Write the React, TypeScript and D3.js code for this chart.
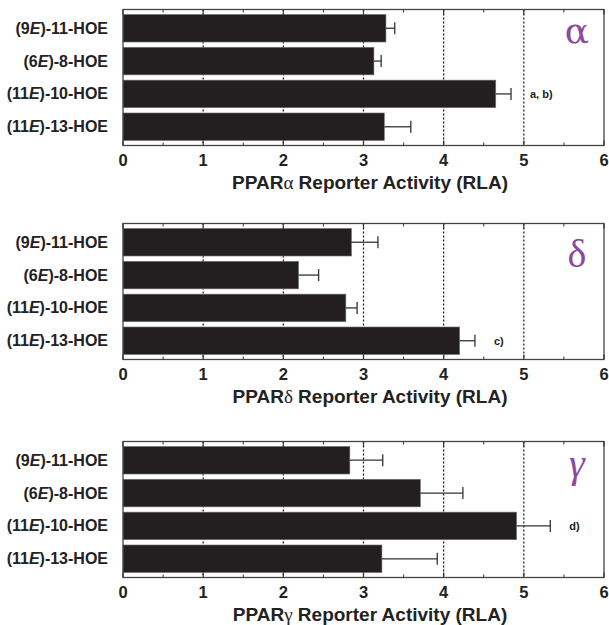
import React, { useEffect, useRef } from 'react';
import * as d3 from 'd3';

const categories = ['(9E)-11-HOE', '(6E)-8-HOE', '(11E)-10-HOE', '(11E)-13-HOE'];

const alphaValues = [3.28, 3.13, 4.65, 3.26];
const alphaErrors = [0.11, 0.09, 0.19, 0.33];
const alphaNotes = ['', '', 'a, b)', ''];

const deltaValues = [2.85, 2.19, 2.78, 4.2];
const deltaErrors = [0.33, 0.25, 0.14, 0.19];
const deltaNotes = ['', '', '', 'c)'];

const gammaValues = [2.83, 3.71, 4.91, 3.23];
const gammaErrors = [0.41, 0.53, 0.42, 0.69];
const gammaNotes = ['', '', 'd)', ''];

const xTicks = [0, 1, 2, 3, 4, 5, 6];
const gridTicks = [1, 2, 3, 4, 5];
const minorTicks = d3.range(0.5, 6, 1);

const greek = ['α', 'δ', 'γ'];

const W = 609;
const H = 625;
const PURPLE = '#8b4a9f';

const App = () => {
  const ref = useRef<SVGSVGElement>(null);

  useEffect(() => {
    const svg = d3.select(ref.current);
    svg.selectAll('*').remove();

    const panels = [
      { top: 9.5, values: alphaValues, errors: alphaErrors, notes: alphaNotes, letter: greek[0], letterDy: 33, font: 'DejaVu Serif', italic: false },
      { top: 223.5, values: deltaValues, errors: deltaErrors, notes: deltaNotes, letter: greek[1], letterDy: 43, font: 'Liberation Serif', italic: false },
      { top: 441.5, values: gammaValues, errors: gammaErrors, notes: gammaNotes, letter: greek[2], letterDy: 35, font: 'Liberation Serif', italic: true },
    ];
    const height = 136;

    const x = d3.scaleLinear().domain([0, 6]).range([123, 604]);

    panels.forEach(p => {
      const g = svg.append('g').attr('transform', `translate(0, ${p.top})`);
      const y = d3
        .scaleBand()
        .domain(categories)
        .range([0, height])
        .paddingInner(0.16)
        .paddingOuter(0.15);

      // dotted grid lines behind the bars
      g.selectAll('.grid')
        .data(gridTicks)
        .enter()
        .append('line')
        .attr('x1', d => x(d))
        .attr('x2', d => x(d))
        .attr('y1', 0)
        .attr('y2', height)
        .attr('stroke', '#111')
        .attr('stroke-width', 1.2)
        .attr('stroke-dasharray', '2,2');

      // bars
      g.selectAll('.bar')
        .data(categories)
        .enter()
        .append('rect')
        .attr('x', x(0))
        .attr('y', d => y(d))
        .attr('width', (d, i) => x(p.values[i]) - x(0))
        .attr('height', y.bandwidth())
        .attr('fill', '#231f20')
        .attr('stroke', '#777')
        .attr('stroke-width', 0.6);

      // error bars (one-sided)
      const eb = g
        .selectAll('.err')
        .data(categories)
        .enter()
        .append('g')
        .attr('transform', d => `translate(0, ${y(d) + y.bandwidth() / 2})`);
      eb.append('line')
        .attr('x1', (d, i) => x(p.values[i]))
        .attr('x2', (d, i) => x(p.values[i] + p.errors[i]))
        .attr('stroke', '#333')
        .attr('stroke-width', 1.3);
      eb.append('line')
        .attr('x1', (d, i) => x(p.values[i] + p.errors[i]))
        .attr('x2', (d, i) => x(p.values[i] + p.errors[i]))
        .attr('y1', -6)
        .attr('y2', 6)
        .attr('stroke', '#333')
        .attr('stroke-width', 1.3);

      // significance notes
      eb.append('text')
        .attr('x', (d, i) => x(p.values[i] + p.errors[i]) + 19)
        .attr('y', 4)
        .attr('font-family', 'Liberation Sans, Arial, sans-serif')
        .attr('font-weight', 'bold')
        .attr('font-size', 11)
        .attr('fill', '#222')
        .text((d, i) => p.notes[i]);

      // frame
      g.append('rect')
        .attr('x', x(0))
        .attr('y', 0)
        .attr('width', x(6) - x(0))
        .attr('height', height)
        .attr('fill', 'none')
        .attr('stroke', '#444')
        .attr('stroke-width', 1.3);

      // inward ticks, top and bottom
      [0, height].forEach(yy => {
        const dir = yy === 0 ? 1 : -1;
        g.selectAll(null)
          .data(xTicks)
          .enter()
          .append('line')
          .attr('x1', d => x(d))
          .attr('x2', d => x(d))
          .attr('y1', yy)
          .attr('y2', yy + dir * 5)
          .attr('stroke', '#333')
          .attr('stroke-width', 1.2);
        g.selectAll(null)
          .data(minorTicks)
          .enter()
          .append('line')
          .attr('x1', d => x(d))
          .attr('x2', d => x(d))
          .attr('y1', yy)
          .attr('y2', yy + dir * 3)
          .attr('stroke', '#333')
          .attr('stroke-width', 1);
      });

      // x tick labels
      g.selectAll('.xt')
        .data(xTicks)
        .enter()
        .append('text')
        .attr('x', d => x(d))
        .attr('y', height + 20)
        .attr('text-anchor', 'middle')
        .attr('font-family', 'Liberation Sans, Arial, sans-serif')
        .attr('font-weight', 'bold')
        .attr('font-size', 16.5)
        .attr('fill', '#222')
        .text(d => d);

      // category labels with italic E
      const lab = g
        .selectAll('.yt')
        .data(categories)
        .enter()
        .append('text')
        .attr('x', 108)
        .attr('y', d => y(d) + y.bandwidth() / 2 + 5.5)
        .attr('text-anchor', 'end')
        .attr('font-family', 'Liberation Sans, Arial, sans-serif')
        .attr('font-weight', 'bold')
        .attr('font-size', 16)
        .attr('fill', '#222');
      lab.each(function (d) {
        const m = d.match(/^\((\d+)E\)(.*)$/);
        const t = d3.select(this);
        t.append('tspan').text('(' + m[1]);
        t.append('tspan').attr('font-style', 'italic').text('E');
        t.append('tspan').text(')' + m[2]);
      });

      // axis title
      const title = g
        .append('text')
        .attr('x', 370)
        .attr('y', height + 43)
        .attr('text-anchor', 'middle')
        .attr('font-family', 'Liberation Sans, Arial, sans-serif')
        .attr('font-weight', 'bold')
        .attr('font-size', 19)
        .attr('fill', '#222');
      title.append('tspan').text('PPAR');
      title
        .append('tspan')
        .attr('font-family', 'Liberation Serif, Times New Roman, serif')
        .attr('font-weight', 'normal')
        .text(p.letter);
      title.append('tspan').text(' Reporter Activity (RLA)');

      // big greek letter
      g.append('text')
        .attr('x', 577)
        .attr('y', p.letterDy)
        .attr('text-anchor', 'middle')
        .attr('font-family', `${p.font}, serif`)
        .attr('font-style', p.italic ? 'italic' : 'normal')
        .attr('font-size', p.font === 'DejaVu Serif' ? 36 : 40)
        .attr('fill', PURPLE)
        .text(p.letter);
    });
  }, []);

  return (
    <svg
      ref={ref}
      width={W}
      height={H}
      style={{ position: 'absolute', left: 0, top: 0, background: '#fff' }}
    />
  );
};

export default App;
